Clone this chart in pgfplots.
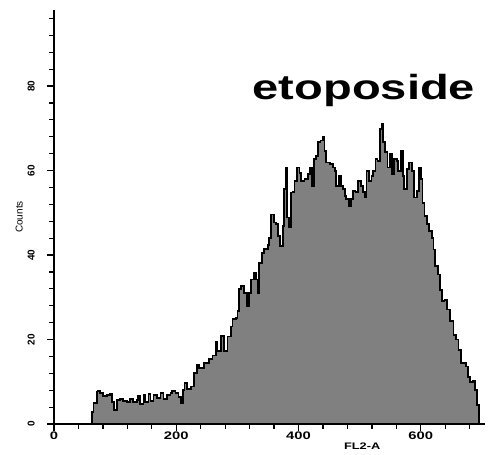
\documentclass[border=0pt]{standalone}
\usepackage{fontspec}
\setmainfont{Liberation Sans}[FakeStretch=1.35]
\newfontfamily\plainsf{Liberation Sans}
\usepackage{pgfplots}
\pgfplotsset{compat=1.18}
\definecolor{histfill}{HTML}{808080}
\begin{document}
\begin{tikzpicture}
\useasboundingbox (-54bp,-31bp) rectangle (434bp,424bp);
\begin{axis}[
  at={(0,0)}, anchor=south west,
  scale only axis, width=431bp, height=414bp,
  xmin=0, xmax=705, ymin=0, ymax=98,
  axis lines=left, axis line style={-, line width=1.6bp},
  tick align=outside,
  xtick={0,200,400,600}, minor xtick={40,80,...,680},
  ytick={0,20,40,60,80}, minor ytick={4,8,...,96},
  major tick length=7bp, minor tick length=4.5bp,
  tick style={line width=1.2bp, black},
  /pgf/number format/assume math mode=true,
  xticklabel style={font=\fontsize{11}{12}\selectfont\bfseries, inner sep=1pt},
  yticklabel style={rotate=90, anchor=south, inner sep=0pt, font=\plainsf\fontsize{10}{11}\selectfont\bfseries},
  yticklabel shift=12bp,
  xlabel={FL2-A}, ylabel={Counts},
  xlabel style={at={(axis description cs:0.715,-0.053)}, anchor=center, font=\fontsize{9.5}{10}\selectfont\bfseries},
  ylabel style={at={(axis description cs:-0.081,0.5)}, anchor=center, font=\plainsf\fontsize{10}{11}\selectfont},
  clip=false,
]
\addplot[const plot, fill=histfill, draw=black, line width=1.8bp] coordinates {
(0,0) (57.5,0) (62.5,2.9) (64.6,5) (70.2,7.7) (71.8,7.9) (75.6,7.3) (80.5,6.6)
(86.6,6.9) (92,7.1) (94.8,5.3) (97.5,3.3) (103,5.7) (108.5,5.9) (113.4,5.5)
(119.5,5.3) (124.9,5.9) (129.8,5.3) (135.9,5.7) (138,6.6) (141.3,4.7) (146.3,6.9)
(149.5,5.2) (154.5,7.1) (157.8,5.4) (162.7,6.9) (168.8,6.2) (174.2,7.3) (179.1,5.9)
(185.2,6.9) (190.6,7.3) (193.4,7.9) (198.8,7.3) (203.8,6.4) (207.1,5.0) (210.4,8.1)
(213.6,9.8) (218,8.3) (223.5,8.9) (228.9,12) (233.4,14) (237.1,13.3) (245.4,14.4)
(253.6,15.4) (259.2,16.2) (264.6,19.5) (267.4,17.2) (272.8,20.9) (278.2,17.2)
(283.8,20.7) (289.2,23.1) (292,24.9) (297.5,25.1) (300.2,26.7) (302.9,32) (305.7,32.6)
(311.1,31) (315.5,28) (319.3,31) (322.1,34.2) (326.5,35.8) (330.3,34.2) (333.1,31)
(335.7,38.2) (339.7,40.5) (344,41.5) (349.5,42.3) (352.2,44.1) (355,49.6) (359.4,47.7)
(363.2,47.4) (366,44.5) (369.8,42.1) (374.2,46.9) (376.8,55.6) (379.6,60.7) (381.3,48.9)
(385,46.5) (387.8,54.8) (390.6,55) (393.3,57.6) (397.7,60.7) (401.5,59.5) (404.3,57.6)
(409.7,58) (415.3,59.1) (419.1,60.7) (421.9,56.4) (425.1,62.7) (428.9,63.5) (431.7,66.7)
(436,67.1) (439.9,67.9) (442.6,64.7) (445.4,61.9) (450.8,61.5) (456.4,60.7) (459,59.9)
(461.8,56.4) (465.6,58.7) (468.9,56.4) (472.8,55.6) (475.4,54) (478.2,53.2) (482,51.6)
(485.3,53.2) (489.2,55.2) (493,55) (497.5,57.6) (501.7,56.4) (505.7,55) (508.3,53.6)
(511.1,59.9) (514.9,57.6) (519.3,58.7) (522.1,59.9) (525.9,62.7) (529.2,62.3) (533,69.8)
(535.7,71) (538.5,66.7) (541.2,64.3) (545.6,60.7) (549.4,63.9) (553.3,59.1) (556.6,62.7)
(560.4,62.3) (563.2,59.9) (567.5,64.7) (570.3,58.7) (573,55.6) (576.8,60.3) (580.6,61.9)
(585,59.9) (589.5,53.6) (593.3,55.2) (597,60.7) (599.8,58) (602.6,52.4) (605.9,49.2)
(609.7,47.3) (613.5,45.7) (617.9,44.1) (620.7,41.3) (623.3,37.4) (627.8,35.4) (631.6,31.8)
(634.3,29.1) (638.8,29.3) (642.6,27.1) (648,24.3) (653.6,21.1) (657.4,20) (661.8,17.6)
(666.1,14.4) (670,14.4) (673.8,13.6) (677.1,11.2) (680.9,10) (684.9,10.3) (688.2,8.1)
(691.9,4.5) (694.7,0) (700,0)
} \closedcycle;
\node[anchor=base, font=\fontsize{35}{36}\selectfont\bfseries] at (axis description cs:0.719,0.783) {etoposide};
\end{axis}
\end{tikzpicture}
\end{document}
